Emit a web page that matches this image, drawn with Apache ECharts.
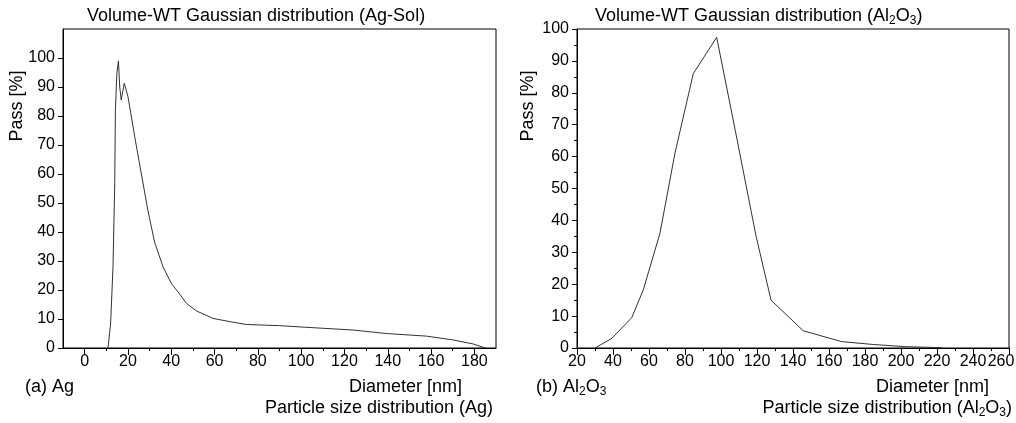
<!DOCTYPE html>
<html>
<head>
<meta charset="utf-8">
<script src="https://cdn.jsdelivr.net/npm/echarts@6/dist/echarts.min.js"></script>
<style>
html,body{margin:0;padding:0;background:#fff;}
#c{width:1016px;height:423px;}
</style>
</head>
<body>
<div id="c"></div>
<script>
// ---- data ----
const agDiameter = [10.8, 12, 13.1, 13.9, 14.2, 14.9, 15.6, 16.2, 16.9, 18.3, 20, 23.1, 26.2, 29.2, 32.3, 36.2, 40, 44, 47, 51.6, 59.3, 67, 74.7, 90, 105.5, 124, 139.3, 157.8, 170, 179.4, 185];
const agPass     = [0, 8.6, 28, 57, 82, 95, 99, 90, 85.5, 91.3, 86.7, 73, 60, 47.5, 36.5, 28, 22.3, 18.5, 15.4, 12.8, 10.2, 9.1, 8.1, 7.7, 7.0, 6.2, 5.0, 4.1, 2.8, 1.4, 0];
const alDiameter = [30, 39.3, 50.4, 56.8, 66.1, 74.4, 84.6, 97.6, 108, 119.5, 127.8, 145.7, 167, 184.6, 203, 222.6];
const alPass     = [0, 3.0, 9.5, 18.2, 36, 61, 86, 97.4, 68, 35, 15, 5.4, 2.0, 1.1, 0.4, 0.1];

const agMajorTicks = [0, 20, 40, 60, 80, 100, 120, 140, 160, 180];
const agMinorTicks = [10, 30, 50, 70, 90, 110, 130, 150, 170];
const alXMax = 260;

const FONT = '"Liberation Sans", Arial, Helvetica, sans-serif';
const BLACK = '#000';

function zip(xs, ys){ return xs.map((x,i)=>[x, ys[i]]); }

const labelStyle = {color: BLACK, fontFamily: FONT, fontSize: 16};
const lineAxis = {show: true, onZero: false, lineStyle: {color: BLACK, width: 1}};

const chart = echarts.init(document.getElementById('c'), null, {renderer: 'canvas'});

const subRich = {
  sub: {fontFamily: FONT, fontSize: 12, color: BLACK, verticalAlign: 'bottom', padding: [9, 0, 0, 0]},
  n: {fontFamily: FONT, fontSize: 18, color: BLACK}
};

function txt(x, y, text, align, rich){
  return {
    type: 'text', x: x, y: y, silent: true,
    style: {
      text: text, fill: BLACK, font: '18px ' + FONT,
      align: align || 'left', verticalAlign: 'middle',
      rich: rich || undefined
    }
  };
}

const option = {
  animation: false,
  backgroundColor: '#fff',
  grid: [
    {left: 63, top: 29, width: 433, height: 319, show: true, borderColor: BLACK, borderWidth: 1, backgroundColor: 'transparent', containLabel: false, outerBoundsMode: 'none'},
    {left: 577, top: 29, width: 432, height: 319, show: true, borderColor: BLACK, borderWidth: 1, backgroundColor: 'transparent', containLabel: false, outerBoundsMode: 'none'}
  ],
  xAxis: [
    {gridIndex: 0, type: 'value', min: -10, max: 190, position: 'bottom',
     axisLine: lineAxis,
     axisTick: {show: true, length: 7, customValues: agMajorTicks, lineStyle: {color: BLACK}},
     axisLabel: Object.assign({margin: 6, customValues: agMajorTicks, hideOverlap: false}, labelStyle),
     splitLine: {show: false}},
    {gridIndex: 0, type: 'value', min: -10, max: 190, position: 'bottom',
     axisLine: {show: false, onZero: false},
     axisTick: {show: true, length: 3, customValues: agMinorTicks, lineStyle: {color: BLACK}},
     axisLabel: {show: false},
     splitLine: {show: false}},
    {gridIndex: 1, type: 'value', min: 20, max: alXMax, interval: 20, position: 'bottom',
     axisLine: lineAxis,
     axisTick: {show: true, length: 7, lineStyle: {color: BLACK}},
     minorTick: {show: true, splitNumber: 2, length: 3, lineStyle: {color: BLACK}},
     axisLabel: Object.assign({
       margin: 6, showMinLabel: true, hideOverlap: false,
       formatter: function(v){ return v === alXMax ? '{last|' + v + '}' : String(v); },
       rich: {last: {color: BLACK, fontFamily: FONT, fontSize: 16, padding: [0, 16, 0, 0]}}
     }, labelStyle),
     splitLine: {show: false}, minorSplitLine: {show: false}}
  ],
  yAxis: [
    {gridIndex: 0, type: 'value', min: 0, max: 110, interval: 10,
     axisLine: lineAxis,
     axisTick: {show: true, length: 5, lineStyle: {color: BLACK}},
     axisLabel: Object.assign({margin: 8, showMaxLabel: false}, labelStyle),
     splitLine: {show: false}},
    {gridIndex: 1, type: 'value', min: 0, max: 100, interval: 10,
     axisLine: lineAxis,
     axisTick: {show: true, length: 5, lineStyle: {color: BLACK}},
     minorTick: {show: true, splitNumber: 2, length: 3, lineStyle: {color: BLACK}},
     axisLabel: Object.assign({margin: 8}, labelStyle),
     splitLine: {show: false}, minorSplitLine: {show: false}}
  ],
  series: [
    {type: 'line', xAxisIndex: 0, yAxisIndex: 0, data: zip(agDiameter, agPass),
     showSymbol: false, symbol: 'none', lineStyle: {color: '#333', width: 1}},
    {type: 'line', xAxisIndex: 2, yAxisIndex: 1, data: zip(alDiameter, alPass),
     showSymbol: false, symbol: 'none', lineStyle: {color: '#333', width: 1}}
  ],
  graphic: [
    txt(87, 16, 'Volume-WT Gaussian distribution (Ag-Sol)'),
    txt(595, 16, '{n|Volume-WT Gaussian distribution (Al}{sub|2}{n|O}{sub|3}{n|)}', 'left', subRich),
    {type: 'text', x: 17, y: 106, rotation: Math.PI/2, silent: true,
     style: {text: 'Pass [%]', fill: BLACK, font: '18px ' + FONT, align: 'center', verticalAlign: 'middle'}},
    {type: 'text', x: 528, y: 106, rotation: Math.PI/2, silent: true,
     style: {text: 'Pass [%]', fill: BLACK, font: '18px ' + FONT, align: 'center', verticalAlign: 'middle'}},
    txt(25, 387, '(a) Ag'),
    txt(462, 387, 'Diameter [nm]', 'right'),
    txt(493, 408, 'Particle size distribution (Ag)', 'right'),
    txt(536, 387, '{n|(b) Al}{sub|2}{n|O}{sub|3}', 'left', subRich),
    txt(989, 387, 'Diameter [nm]', 'right'),
    txt(1012, 408, '{n|Particle size distribution (Al}{sub|2}{n|O}{sub|3}{n|)}', 'right', subRich)
  ]
};
chart.setOption(option);
</script>
</body>
</html>
